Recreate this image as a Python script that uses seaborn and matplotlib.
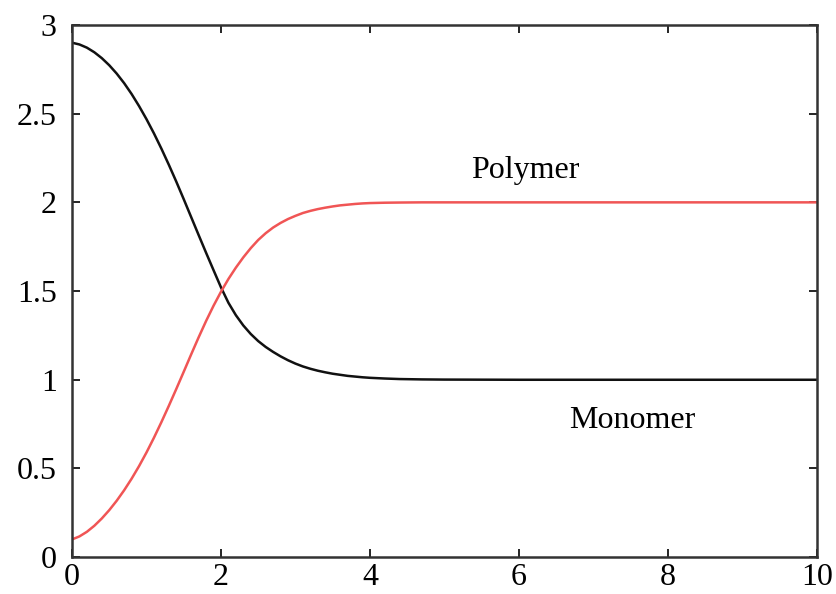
import pandas as pd
import seaborn as sns
import matplotlib.pyplot as plt

# values (denser where the curves bend)
time = [0.0, 0.1, 0.2, 0.3, 0.4, 0.5, 0.6, 0.7, 0.8, 0.9,
        1.0, 1.1, 1.2, 1.3, 1.4, 1.5, 1.6, 1.7, 1.8, 1.9,
        2.0, 2.1, 2.2, 2.3, 2.4, 2.5, 2.6, 2.7, 2.8, 2.9,
        3.0, 3.1, 3.2, 3.3, 3.4, 3.5, 3.6, 3.7, 3.8, 3.9,
        4.0, 4.2, 4.4, 4.7, 5, 6, 7, 8, 9, 10]
monomer = [2.900, 2.890, 2.872, 2.846, 2.813, 2.773, 2.726, 2.672, 2.611, 2.543,
           2.469, 2.389, 2.303, 2.212, 2.117, 2.018, 1.917, 1.816, 1.716, 1.618,
           1.521, 1.434, 1.364, 1.306, 1.258, 1.218, 1.185, 1.157, 1.132, 1.110,
           1.091, 1.075, 1.062, 1.051, 1.042, 1.034, 1.028, 1.022, 1.018, 1.014,
           1.011, 1.007, 1.004, 1.002, 1.001, 1.0, 1.0, 1.0, 1.0, 1.0]
polymer = [0.100, 0.117, 0.143, 0.177, 0.218, 0.265, 0.318, 0.377, 0.442, 0.513,
           0.590, 0.673, 0.761, 0.853, 0.948, 1.045, 1.143, 1.239, 1.331, 1.417,
           1.496, 1.568, 1.632, 1.690, 1.742, 1.788, 1.826, 1.858, 1.884, 1.906,
           1.924, 1.940, 1.952, 1.962, 1.970, 1.977, 1.983, 1.987, 1.991, 1.994,
           1.996, 1.998, 1.999, 2.0, 2.0, 2.0, 2.0, 2.0, 2.0, 2.0]
y_ticks = [0, 0.5, 1, 1.5, 2, 2.5, 3]
y_labels = ['0', '0.5', '1', '1.5', '2', '2.5', '3']
x_ticks = [0, 2, 4, 6, 8, 10]

df = pd.DataFrame({'t': time, 'Monomer': monomer, 'Polymer': polymer})
df_long = df.melt(id_vars='t', var_name='species', value_name='conc')

sns.set_style('ticks')
plt.rcParams['font.family'] = ['Liberation Serif', 'DejaVu Serif']

fig = plt.figure(figsize=(8.37, 5.94), dpi=100)
ax = fig.add_axes([0.086, 0.062, 0.89, 0.896])

sns.lineplot(data=df_long, x='t', y='conc', hue='species',
             palette={'Monomer': '#111111', 'Polymer': '#f05555'},
             linewidth=1.8, legend=False, ax=ax)

ax.set_xlim(0, 10)
ax.set_ylim(0, 3)
ax.set_xticks(x_ticks)
ax.set_xticklabels([str(v) for v in x_ticks])
ax.set_yticks(y_ticks)
ax.set_yticklabels(y_labels)
ax.set_xlabel('')
ax.set_ylabel('')

for side in ['left', 'right', 'top', 'bottom']:
    ax.spines[side].set_visible(True)
    ax.spines[side].set_linewidth(1.8)
    ax.spines[side].set_color('#333333')
ax.tick_params(direction='in', length=6, width=1.2, top=True, right=True,
               labelsize=23, colors='black')
ax.tick_params(axis='x', pad=4)
ax.tick_params(axis='y', pad=11)

ax.text(6.08, 2.18, 'Polymer', fontsize=23, color='black', ha='center', va='center')
ax.text(7.52, 0.77, 'Monomer', fontsize=23, color='black', ha='center', va='center')

fig.savefig('out.png', dpi=100)
